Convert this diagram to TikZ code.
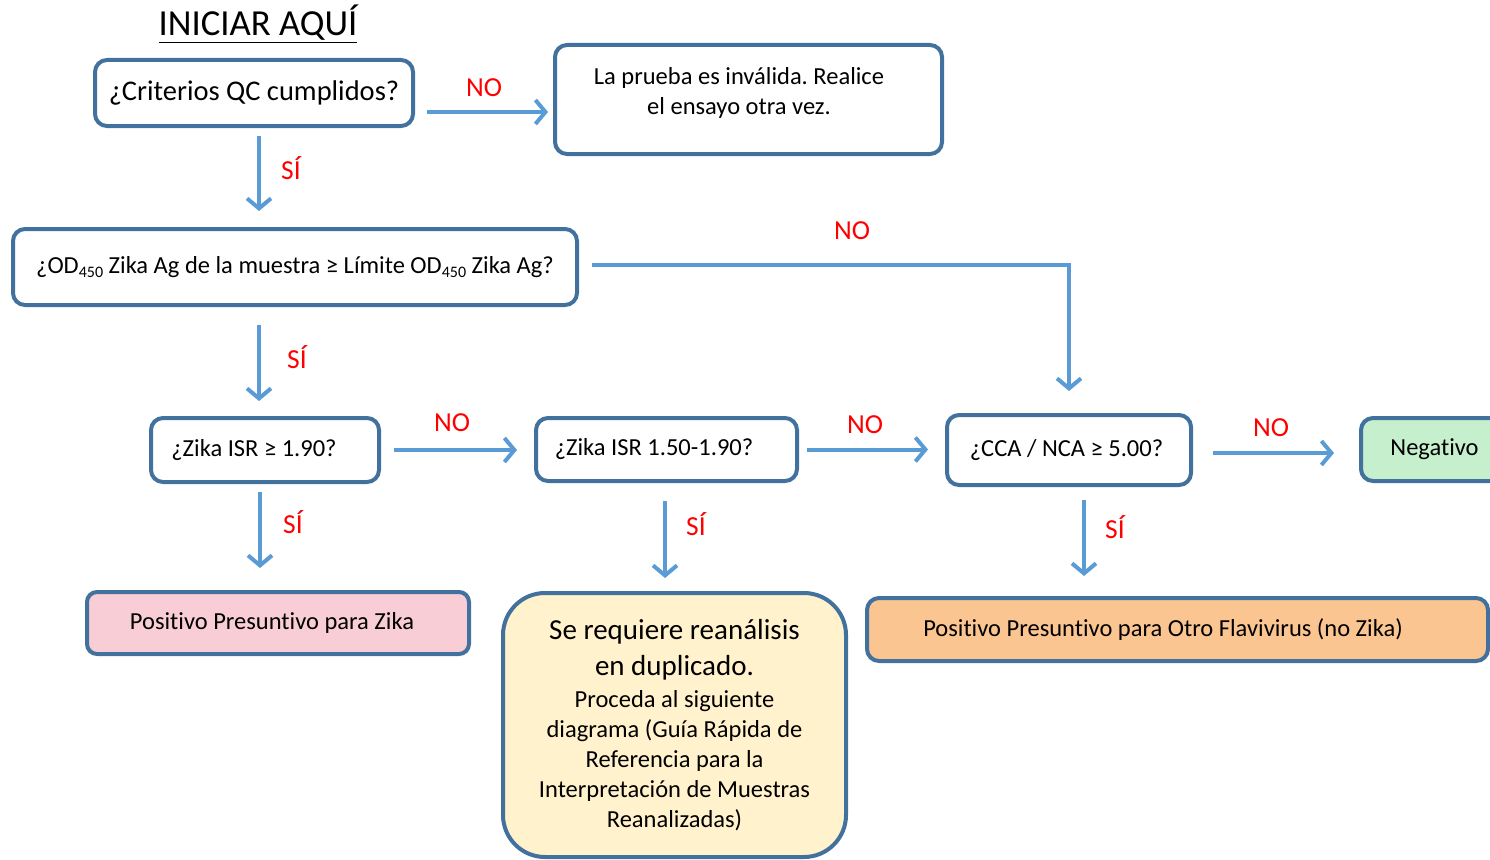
\documentclass[tikz,border=0pt]{standalone}
\usepackage{fontspec}
\setmainfont{Carlito}[Ligatures={NoCommon}]
\usetikzlibrary{arrows.meta}
\definecolor{boxblue}{RGB}{65,113,156}
\definecolor{arrowblue}{RGB}{91,155,213}
\definecolor{labelred}{RGB}{255,0,0}
\definecolor{fillpink}{RGB}{249,205,214}
\definecolor{fillgreen}{RGB}{198,239,206}
\definecolor{fillorange}{RGB}{250,197,145}
\definecolor{fillyellow}{RGB}{255,242,204}
\newcommand{\odsub}{OD\raisebox{-4pt}{\fontsize{16}{16}\selectfont 450}}
\frenchspacing
\begin{document}
\begin{tikzpicture}[x=1pt,y=-1pt,
  box/.style={draw=boxblue, line width=4pt, rounded corners=12pt, inner sep=0pt,
    font=\fontsize{24.5}{30}\selectfont, align=center},
  txt/.style={inner sep=0pt, font=\fontsize{24.5}{30}\selectfont, align=center},
  arr/.style={draw=arrowblue, line width=4pt, line join=miter,
    -{Straight Barb[length=10pt,width=24pt]}},
  lbl/.style={text=labelred, inner sep=0pt, font=\fontsize{27.5}{30}\selectfont}]
\useasboundingbox (0,0) rectangle (1490,859);
\clip (0,0) rectangle (1490,859);

% title
\node[txt, font=\fontsize{36.7}{40}\selectfont] (title) at (258,24) {\underline{INICIAR AQUÍ}};

% boxes
\node[box, minimum width=318pt, minimum height=66pt, font=\fontsize{28.5}{32}\selectfont] (b1) at (254,93) {¿Criterios QC cumplidos?};
\node[box, minimum width=387pt, minimum height=109pt] (b2) at (748.5,99.5) {};
\node[txt] (b2t) at (739,93) {La prueba es inválida. Realice\\el ensayo otra vez.};
\node[box, minimum width=564pt, minimum height=76pt] (b3) at (295,267) {¿\odsub{} Zika Ag de la muestra ≥ Límite \odsub{} Zika Ag?};
\node[box, minimum width=228pt, minimum height=64pt] (b4) at (265,450) {¿Zika ISR ≥ 1.90?\hspace*{22pt}};
\node[box, minimum width=261pt, minimum height=63pt] (b5) at (666.5,449.5) {¿Zika ISR 1.50-1.90?\hspace*{25pt}};
\node[box, minimum width=244pt, minimum height=70pt] (b6) at (1069,450) {¿CCA / NCA ≥ 5.00?\hspace*{5pt}};
\node[box, fill=fillgreen, minimum width=147pt, minimum height=63pt] (b7) at (1434.5,449.5) {Negativo};
\node[box, fill=fillpink, rounded corners=10pt, minimum width=382pt, minimum height=62pt] (b8) at (278,623) {Positivo Presuntivo para Zika\hspace*{12pt}};
\node[box, fill=fillyellow, rounded corners=42pt, minimum width=343pt, minimum height=264pt] (b9) at (674.5,725)
  {{\fontsize{29}{36}\selectfont Se requiere reanálisis}\\[6pt]
   {\fontsize{29}{36}\selectfont en duplicado.}\\[2pt]
   Proceda al siguiente\\diagrama (Guía Rápida de\\Referencia para la\\Interpretación de Muestras\\Reanalizadas)};
\node[box, fill=fillorange, minimum width=621pt, minimum height=63pt] (b10) at (1177.5,629.5) {Positivo Presuntivo para Otro Flavivirus (no Zika)\hspace*{29pt}};

% connectors
\draw[arr, shorten <=12pt, shorten >=5pt] ([shift={(0,19)}]b1.east) -- ([shift={(0,19)}]b1.east -| b2.west);
\draw[arr, shorten <=8pt, shorten >=16pt] ([xshift=5pt]b1.south) -- ([xshift=5pt]b1.south |- b3.north);
\draw[arr, shorten <=13pt, shorten >=22pt] ([shift={(0,-2)}]b3.east) -| (b6.north);
\draw[arr, shorten <=18pt, shorten >=15pt] ([xshift=-6pt]b4.north |- b3.south) -- ([xshift=-6pt]b4.north);
\draw[arr, shorten <=13pt, shorten >=17pt] (b4.east) -- (b4.east -| b5.west);
\draw[arr, shorten <=8pt, shorten >=17pt] (b5.east) -- (b5.east -| b6.west);
\draw[arr, shorten <=20pt, shorten >=25pt] ([shift={(0,3)}]b6.east) -- ([shift={(0,3)}]b6.east -| b7.west);
\draw[arr, shorten <=8pt, shorten >=22pt] ([xshift=-5pt]b4.south) -- ([xshift=-5pt]b4.south |- b8.north);
\draw[arr, shorten <=18pt, shorten >=13pt] ([xshift=-1.5pt]b5.south) -- ([xshift=-1.5pt]b5.south |- b9.north);
\draw[arr, shorten <=13pt, shorten >=20pt] ([xshift=15pt]b6.south) -- ([xshift=15pt]b6.south |- b10.north);

% labels
\node[lbl] (l1) at (291,168) {SÍ};
\node[lbl] (l2) at (484,88) {NO};
\node[lbl] (l3) at (852,231) {NO};
\node[lbl] (l4) at (297,357) {SÍ};
\node[lbl] (l5) at (452,423) {NO};
\node[lbl] (l6) at (865,425) {NO};
\node[lbl] (l7) at (1271,428) {NO};
\node[lbl] (l8) at (293,522) {SÍ};
\node[lbl] (l9) at (696,524) {SÍ};
\node[lbl] (l10) at (1115,527) {SÍ};
\end{tikzpicture}
\end{document}
